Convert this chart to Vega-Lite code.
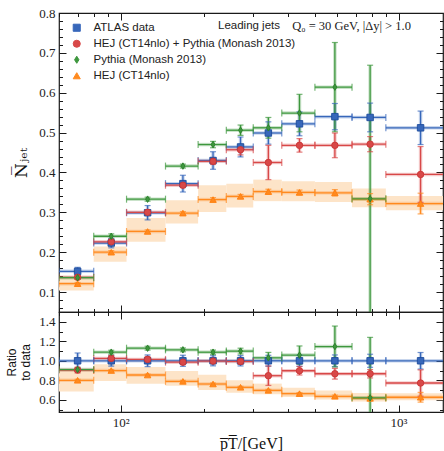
{
  "$schema": "https://vega.github.io/schema/vega-lite/v6.json",
  "padding": {"left": 5, "top": 6, "right": 0, "bottom": 0},
  "background": "white",
  "spacing": 0,
  "bounds": "flush",
  "resolve": {"scale": {"color": "independent", "fill": "independent", "stroke": "independent", "shape": "independent", "x": "independent", "y": "independent"}},
  "datasets": {
    "main": [
      {"s": "HEJ (CT14nlo)", "xlo": 60, "xhi": 80, "xc": 70, "y": 0.121, "lo": 0.118, "hi": 0.124, "blo": 0.104, "bhi": 0.138},
      {"s": "HEJ (CT14nlo)", "xlo": 80, "xhi": 105, "xc": 92.5, "y": 0.200, "lo": 0.196, "hi": 0.204, "blo": 0.176, "bhi": 0.214},
      {"s": "HEJ (CT14nlo)", "xlo": 105, "xhi": 145, "xc": 125, "y": 0.252, "lo": 0.248, "hi": 0.256, "blo": 0.226, "bhi": 0.286},
      {"s": "HEJ (CT14nlo)", "xlo": 145, "xhi": 190, "xc": 167.5, "y": 0.298, "lo": 0.294, "hi": 0.302, "blo": 0.272, "bhi": 0.330},
      {"s": "HEJ (CT14nlo)", "xlo": 190, "xhi": 240, "xc": 215, "y": 0.332, "lo": 0.327, "hi": 0.337, "blo": 0.301, "bhi": 0.368},
      {"s": "HEJ (CT14nlo)", "xlo": 240, "xhi": 300, "xc": 270, "y": 0.340, "lo": 0.335, "hi": 0.345, "blo": 0.312, "bhi": 0.372},
      {"s": "HEJ (CT14nlo)", "xlo": 300, "xhi": 380, "xc": 340, "y": 0.352, "lo": 0.346, "hi": 0.358, "blo": 0.328, "bhi": 0.382},
      {"s": "HEJ (CT14nlo)", "xlo": 380, "xhi": 500, "xc": 440, "y": 0.350, "lo": 0.344, "hi": 0.356, "blo": 0.328, "bhi": 0.378},
      {"s": "HEJ (CT14nlo)", "xlo": 500, "xhi": 680, "xc": 590, "y": 0.349, "lo": 0.341, "hi": 0.357, "blo": 0.326, "bhi": 0.376},
      {"s": "HEJ (CT14nlo)", "xlo": 680, "xhi": 900, "xc": 790, "y": 0.333, "lo": 0.319, "hi": 0.347, "blo": 0.313, "bhi": 0.360},
      {"s": "HEJ (CT14nlo)", "xlo": 900, "xhi": 1500, "xc": 1200, "y": 0.322, "lo": 0.296, "hi": 0.348, "blo": 0.305, "bhi": 0.341},
      {"s": "ATLAS data", "xlo": 60, "xhi": 80, "xc": 70, "y": 0.152, "lo": 0.142, "hi": 0.162},
      {"s": "ATLAS data", "xlo": 80, "xhi": 105, "xc": 92.5, "y": 0.223, "lo": 0.211, "hi": 0.235},
      {"s": "ATLAS data", "xlo": 105, "xhi": 145, "xc": 125, "y": 0.299, "lo": 0.281, "hi": 0.317},
      {"s": "ATLAS data", "xlo": 145, "xhi": 190, "xc": 167.5, "y": 0.372, "lo": 0.351, "hi": 0.393},
      {"s": "ATLAS data", "xlo": 190, "xhi": 240, "xc": 215, "y": 0.430, "lo": 0.408, "hi": 0.452},
      {"s": "ATLAS data", "xlo": 240, "xhi": 300, "xc": 270, "y": 0.464, "lo": 0.439, "hi": 0.489},
      {"s": "ATLAS data", "xlo": 300, "xhi": 380, "xc": 340, "y": 0.499, "lo": 0.471, "hi": 0.527},
      {"s": "ATLAS data", "xlo": 380, "xhi": 500, "xc": 440, "y": 0.522, "lo": 0.492, "hi": 0.552},
      {"s": "ATLAS data", "xlo": 500, "xhi": 680, "xc": 590, "y": 0.540, "lo": 0.507, "hi": 0.573},
      {"s": "ATLAS data", "xlo": 680, "xhi": 900, "xc": 790, "y": 0.538, "lo": 0.502, "hi": 0.574},
      {"s": "ATLAS data", "xlo": 900, "xhi": 1500, "xc": 1200, "y": 0.512, "lo": 0.470, "hi": 0.554},
      {"s": "HEJ (CT14nlo) + Pythia (Monash 2013)", "xlo": 60, "xhi": 80, "xc": 70, "y": 0.137, "lo": 0.133, "hi": 0.141},
      {"s": "HEJ (CT14nlo) + Pythia (Monash 2013)", "xlo": 80, "xhi": 105, "xc": 92.5, "y": 0.226, "lo": 0.220, "hi": 0.232},
      {"s": "HEJ (CT14nlo) + Pythia (Monash 2013)", "xlo": 105, "xhi": 145, "xc": 125, "y": 0.300, "lo": 0.295, "hi": 0.305},
      {"s": "HEJ (CT14nlo) + Pythia (Monash 2013)", "xlo": 145, "xhi": 190, "xc": 167.5, "y": 0.368, "lo": 0.362, "hi": 0.374},
      {"s": "HEJ (CT14nlo) + Pythia (Monash 2013)", "xlo": 190, "xhi": 240, "xc": 215, "y": 0.428, "lo": 0.420, "hi": 0.436},
      {"s": "HEJ (CT14nlo) + Pythia (Monash 2013)", "xlo": 240, "xhi": 300, "xc": 270, "y": 0.457, "lo": 0.444, "hi": 0.470},
      {"s": "HEJ (CT14nlo) + Pythia (Monash 2013)", "xlo": 300, "xhi": 380, "xc": 340, "y": 0.425, "lo": 0.382, "hi": 0.468},
      {"s": "HEJ (CT14nlo) + Pythia (Monash 2013)", "xlo": 380, "xhi": 500, "xc": 440, "y": 0.468, "lo": 0.451, "hi": 0.485},
      {"s": "HEJ (CT14nlo) + Pythia (Monash 2013)", "xlo": 500, "xhi": 680, "xc": 590, "y": 0.468, "lo": 0.437, "hi": 0.499},
      {"s": "HEJ (CT14nlo) + Pythia (Monash 2013)", "xlo": 680, "xhi": 900, "xc": 790, "y": 0.471, "lo": 0.452, "hi": 0.490},
      {"s": "HEJ (CT14nlo) + Pythia (Monash 2013)", "xlo": 900, "xhi": 1500, "xc": 1200, "y": 0.395, "lo": 0.325, "hi": 0.465},
      {"s": "Pythia (Monash 2013)", "xlo": 60, "xhi": 80, "xc": 70, "y": 0.136, "lo": 0.132, "hi": 0.140},
      {"s": "Pythia (Monash 2013)", "xlo": 80, "xhi": 105, "xc": 92.5, "y": 0.240, "lo": 0.234, "hi": 0.246},
      {"s": "Pythia (Monash 2013)", "xlo": 105, "xhi": 145, "xc": 125, "y": 0.333, "lo": 0.328, "hi": 0.338},
      {"s": "Pythia (Monash 2013)", "xlo": 145, "xhi": 190, "xc": 167.5, "y": 0.416, "lo": 0.411, "hi": 0.421},
      {"s": "Pythia (Monash 2013)", "xlo": 190, "xhi": 240, "xc": 215, "y": 0.470, "lo": 0.462, "hi": 0.478},
      {"s": "Pythia (Monash 2013)", "xlo": 240, "xhi": 300, "xc": 270, "y": 0.506, "lo": 0.493, "hi": 0.519},
      {"s": "Pythia (Monash 2013)", "xlo": 300, "xhi": 380, "xc": 340, "y": 0.512, "lo": 0.486, "hi": 0.538},
      {"s": "Pythia (Monash 2013)", "xlo": 380, "xhi": 500, "xc": 440, "y": 0.549, "lo": 0.502, "hi": 0.596},
      {"s": "Pythia (Monash 2013)", "xlo": 500, "xhi": 680, "xc": 590, "y": 0.614, "lo": 0.502, "hi": 0.726},
      {"s": "Pythia (Monash 2013)", "xlo": 680, "xhi": 900, "xc": 790, "y": 0.334, "lo": 0.0, "hi": 0.669}
    ],
    "ratio": [
      {"s": "HEJ (CT14nlo)", "xlo": 60, "xhi": 80, "xc": 70, "y": 0.800, "lo": 0.790, "hi": 0.810, "blo": 0.684, "bhi": 0.910},
      {"s": "HEJ (CT14nlo)", "xlo": 80, "xhi": 105, "xc": 92.5, "y": 0.900, "lo": 0.890, "hi": 0.910, "blo": 0.793, "bhi": 0.964},
      {"s": "HEJ (CT14nlo)", "xlo": 105, "xhi": 145, "xc": 125, "y": 0.854, "lo": 0.844, "hi": 0.864, "blo": 0.765, "bhi": 0.935},
      {"s": "HEJ (CT14nlo)", "xlo": 145, "xhi": 190, "xc": 167.5, "y": 0.789, "lo": 0.779, "hi": 0.799, "blo": 0.745, "bhi": 0.895},
      {"s": "HEJ (CT14nlo)", "xlo": 190, "xhi": 240, "xc": 215, "y": 0.762, "lo": 0.752, "hi": 0.772, "blo": 0.700, "bhi": 0.856},
      {"s": "HEJ (CT14nlo)", "xlo": 240, "xhi": 300, "xc": 270, "y": 0.728, "lo": 0.718, "hi": 0.738, "blo": 0.672, "bhi": 0.800},
      {"s": "HEJ (CT14nlo)", "xlo": 300, "xhi": 380, "xc": 340, "y": 0.697, "lo": 0.687, "hi": 0.707, "blo": 0.657, "bhi": 0.766},
      {"s": "HEJ (CT14nlo)", "xlo": 380, "xhi": 500, "xc": 440, "y": 0.663, "lo": 0.653, "hi": 0.673, "blo": 0.628, "bhi": 0.724},
      {"s": "HEJ (CT14nlo)", "xlo": 500, "xhi": 680, "xc": 590, "y": 0.636, "lo": 0.624, "hi": 0.648, "blo": 0.604, "bhi": 0.696},
      {"s": "HEJ (CT14nlo)", "xlo": 680, "xhi": 900, "xc": 790, "y": 0.615, "lo": 0.595, "hi": 0.635, "blo": 0.582, "bhi": 0.669},
      {"s": "HEJ (CT14nlo)", "xlo": 900, "xhi": 1500, "xc": 1200, "y": 0.626, "lo": 0.576, "hi": 0.676, "blo": 0.596, "bhi": 0.666},
      {"s": "ATLAS data", "xlo": 60, "xhi": 80, "xc": 70, "y": 1.0, "lo": 0.920, "hi": 1.080},
      {"s": "ATLAS data", "xlo": 80, "xhi": 105, "xc": 92.5, "y": 1.0, "lo": 0.945, "hi": 1.055},
      {"s": "ATLAS data", "xlo": 105, "xhi": 145, "xc": 125, "y": 1.0, "lo": 0.940, "hi": 1.060},
      {"s": "ATLAS data", "xlo": 145, "xhi": 190, "xc": 167.5, "y": 1.0, "lo": 0.943, "hi": 1.057},
      {"s": "ATLAS data", "xlo": 190, "xhi": 240, "xc": 215, "y": 1.0, "lo": 0.948, "hi": 1.052},
      {"s": "ATLAS data", "xlo": 240, "xhi": 300, "xc": 270, "y": 1.0, "lo": 0.947, "hi": 1.053},
      {"s": "ATLAS data", "xlo": 300, "xhi": 380, "xc": 340, "y": 1.0, "lo": 0.944, "hi": 1.056},
      {"s": "ATLAS data", "xlo": 380, "xhi": 500, "xc": 440, "y": 1.0, "lo": 0.943, "hi": 1.057},
      {"s": "ATLAS data", "xlo": 500, "xhi": 680, "xc": 590, "y": 1.0, "lo": 0.940, "hi": 1.060},
      {"s": "ATLAS data", "xlo": 680, "xhi": 900, "xc": 790, "y": 1.0, "lo": 0.933, "hi": 1.067},
      {"s": "ATLAS data", "xlo": 900, "xhi": 1500, "xc": 1200, "y": 1.0, "lo": 0.915, "hi": 1.085},
      {"s": "HEJ (CT14nlo) + Pythia (Monash 2013)", "xlo": 60, "xhi": 80, "xc": 70, "y": 0.905, "lo": 0.875, "hi": 0.935},
      {"s": "HEJ (CT14nlo) + Pythia (Monash 2013)", "xlo": 80, "xhi": 105, "xc": 92.5, "y": 1.024, "lo": 0.994, "hi": 1.054},
      {"s": "HEJ (CT14nlo) + Pythia (Monash 2013)", "xlo": 105, "xhi": 145, "xc": 125, "y": 1.014, "lo": 0.984, "hi": 1.044},
      {"s": "HEJ (CT14nlo) + Pythia (Monash 2013)", "xlo": 145, "xhi": 190, "xc": 167.5, "y": 0.986, "lo": 0.961, "hi": 1.011},
      {"s": "HEJ (CT14nlo) + Pythia (Monash 2013)", "xlo": 190, "xhi": 240, "xc": 215, "y": 0.997, "lo": 0.972, "hi": 1.022},
      {"s": "HEJ (CT14nlo) + Pythia (Monash 2013)", "xlo": 240, "xhi": 300, "xc": 270, "y": 0.993, "lo": 0.963, "hi": 1.023},
      {"s": "HEJ (CT14nlo) + Pythia (Monash 2013)", "xlo": 300, "xhi": 380, "xc": 340, "y": 0.847, "lo": 0.747, "hi": 0.947},
      {"s": "HEJ (CT14nlo) + Pythia (Monash 2013)", "xlo": 380, "xhi": 500, "xc": 440, "y": 0.898, "lo": 0.854, "hi": 0.942},
      {"s": "HEJ (CT14nlo) + Pythia (Monash 2013)", "xlo": 500, "xhi": 680, "xc": 590, "y": 0.867, "lo": 0.812, "hi": 0.922},
      {"s": "HEJ (CT14nlo) + Pythia (Monash 2013)", "xlo": 680, "xhi": 900, "xc": 790, "y": 0.867, "lo": 0.824, "hi": 0.910},
      {"s": "HEJ (CT14nlo) + Pythia (Monash 2013)", "xlo": 900, "xhi": 1500, "xc": 1200, "y": 0.772, "lo": 0.637, "hi": 0.907},
      {"s": "Pythia (Monash 2013)", "xlo": 60, "xhi": 80, "xc": 70, "y": 0.910, "lo": 0.890, "hi": 0.930},
      {"s": "Pythia (Monash 2013)", "xlo": 80, "xhi": 105, "xc": 92.5, "y": 1.088, "lo": 1.068, "hi": 1.108},
      {"s": "Pythia (Monash 2013)", "xlo": 105, "xhi": 145, "xc": 125, "y": 1.129, "lo": 1.109, "hi": 1.149},
      {"s": "Pythia (Monash 2013)", "xlo": 145, "xhi": 190, "xc": 167.5, "y": 1.112, "lo": 1.092, "hi": 1.132},
      {"s": "Pythia (Monash 2013)", "xlo": 190, "xhi": 240, "xc": 215, "y": 1.088, "lo": 1.066, "hi": 1.110},
      {"s": "Pythia (Monash 2013)", "xlo": 240, "xhi": 300, "xc": 270, "y": 1.099, "lo": 1.069, "hi": 1.129},
      {"s": "Pythia (Monash 2013)", "xlo": 300, "xhi": 380, "xc": 340, "y": 1.030, "lo": 0.974, "hi": 1.086},
      {"s": "Pythia (Monash 2013)", "xlo": 380, "xhi": 500, "xc": 440, "y": 1.058, "lo": 0.964, "hi": 1.152},
      {"s": "Pythia (Monash 2013)", "xlo": 500, "xhi": 680, "xc": 590, "y": 1.146, "lo": 0.936, "hi": 1.356},
      {"s": "Pythia (Monash 2013)", "xlo": 680, "xhi": 900, "xc": 790, "y": 0.620, "lo": 0.0, "hi": 1.240}
    ]
  },
  "vconcat": [
    {
      "width": 384,
      "height": 299,
      "data": {"name": "main"},
      "resolve": {"axis": {"x": "independent", "y": "independent"}},
      "layer": [
        {
          "transform": [{"filter": "datum.s === 'HEJ (CT14nlo)'"}],
          "mark": {"type": "rect", "color": "#fde4c8", "clip": true},
          "encoding": {
            "x": {"field": "xlo", "type": "quantitative", "scale": {"type": "log", "domain": [60, 1445], "nice": false},
                  "axis": {"orient": "bottom", "values": [60, 70, 80, 90, 200, 300, 400, 500, 600, 700, 800, 900], "labels": false, "tickSize": -3.5, "title": null}},
            "x2": {"field": "xhi"},
            "y": {"field": "blo", "type": "quantitative", "scale": {"domain": [0.05, 0.8], "nice": false, "zero": false},
                  "axis": {"orient": "left", "values": [0.06, 0.08, 0.12, 0.14, 0.16, 0.18, 0.22, 0.24, 0.26, 0.28, 0.32, 0.34, 0.36, 0.38, 0.42, 0.44, 0.46, 0.48, 0.52, 0.54, 0.56, 0.58, 0.62, 0.64, 0.66, 0.68, 0.72, 0.74, 0.76, 0.78], "labels": false, "tickSize": -3.5, "title": null}},
            "y2": {"field": "bhi"}
          }
        },
        {
          "mark": {"type": "rule", "strokeWidth": 3.5, "opacity": 0.28, "clip": true},
          "encoding": {
            "x": {"field": "xlo", "type": "quantitative", "axis": {"orient": "top", "values": [60, 70, 80, 90, 200, 300, 400, 500, 600, 700, 800, 900], "labels": false, "tickSize": -3.5, "title": null}},
            "x2": {"field": "xhi"},
            "y": {"field": "y", "type": "quantitative", "axis": {"orient": "right", "values": [0.06, 0.08, 0.12, 0.14, 0.16, 0.18, 0.22, 0.24, 0.26, 0.28, 0.32, 0.34, 0.36, 0.38, 0.42, 0.44, 0.46, 0.48, 0.52, 0.54, 0.56, 0.58, 0.62, 0.64, 0.66, 0.68, 0.72, 0.74, 0.76, 0.78], "labels": false, "tickSize": -3.5, "title": null}},
            "color": {"field": "s", "type": "nominal", "scale": {"domain": ["ATLAS data", "HEJ (CT14nlo) + Pythia (Monash 2013)", "Pythia (Monash 2013)", "HEJ (CT14nlo)"], "range": ["#3767ba", "#d84848", "#3d973d", "#ff8a1f"]}}
          }
        },
        {
          "mark": {"type": "rule", "strokeWidth": 3.5, "opacity": 0.28, "clip": true},
          "encoding": {
            "x": {"field": "xc", "type": "quantitative", "axis": {"orient": "bottom", "values": [100, 1000], "labels": false, "tickSize": -7, "title": null}},
            "y": {"field": "lo", "type": "quantitative", "axis": {"orient": "left", "values": [0.1, 0.2, 0.3, 0.4, 0.5, 0.6, 0.7, 0.8], "format": ".1f", "tickSize": -7, "labelPadding": 11, "title": "N̅ⱼₑₜ", "titleFont": "DejaVu Serif", "titleFontSize": 17, "titlePadding": 8}},
            "y2": {"field": "hi"},
            "color": {"field": "s", "type": "nominal"}
          }
        },
        {
          "mark": {"type": "rule", "strokeWidth": 1.3, "clip": true},
          "encoding": {
            "x": {"field": "xlo", "type": "quantitative", "axis": {"orient": "top", "values": [100, 1000], "labels": false, "tickSize": -7, "title": null}},
            "x2": {"field": "xhi"},
            "y": {"field": "y", "type": "quantitative", "axis": {"orient": "right", "values": [0.1, 0.2, 0.3, 0.4, 0.5, 0.6, 0.7, 0.8], "labels": false, "tickSize": -7, "title": null}},
            "color": {"field": "s", "type": "nominal"}
          }
        },
        {
          "mark": {"type": "rule", "strokeWidth": 1.3, "clip": true},
          "encoding": {
            "x": {"field": "xc", "type": "quantitative", "axis": null},
            "y": {"field": "lo", "type": "quantitative", "axis": null},
            "y2": {"field": "hi"},
            "color": {"field": "s", "type": "nominal"}
          }
        },
        {
          "mark": {"type": "tick", "orient": "vertical", "size": 7, "thickness": 1.2, "clip": true},
          "encoding": {
            "x": {"field": "xlo", "type": "quantitative", "axis": null},
            "y": {"field": "y", "type": "quantitative", "axis": null},
            "color": {"field": "s", "type": "nominal"}
          }
        },
        {
          "mark": {"type": "tick", "orient": "vertical", "size": 7, "thickness": 1.2, "clip": true},
          "encoding": {
            "x": {"field": "xhi", "type": "quantitative", "axis": null},
            "y": {"field": "y", "type": "quantitative", "axis": null},
            "color": {"field": "s", "type": "nominal"}
          }
        },
        {
          "mark": {"type": "tick", "orient": "horizontal", "size": 6, "thickness": 1.2, "clip": true},
          "encoding": {
            "x": {"field": "xc", "type": "quantitative", "axis": null},
            "y": {"field": "lo", "type": "quantitative", "axis": null},
            "color": {"field": "s", "type": "nominal"}
          }
        },
        {
          "mark": {"type": "tick", "orient": "horizontal", "size": 6, "thickness": 1.2, "clip": true},
          "encoding": {
            "x": {"field": "xc", "type": "quantitative", "axis": null},
            "y": {"field": "hi", "type": "quantitative", "axis": null},
            "color": {"field": "s", "type": "nominal"}
          }
        },
        {
          "mark": {"type": "point", "filled": true, "opacity": 1, "size": 42, "strokeWidth": 0.9, "clip": true},
          "encoding": {
            "x": {"field": "xc", "type": "quantitative", "axis": null},
            "y": {"field": "y", "type": "quantitative", "axis": null},
            "color": {"field": "s", "type": "nominal",
                      "legend": {"title": null, "orient": "none", "legendX": 12, "legendY": 9, "padding": 0, "symbolSize": 50, "symbolStrokeWidth": 1, "symbolOpacity": 1, "labelLimit": 400, "labelFont": "Liberation Sans", "labelFontSize": 11.5, "labelColor": "#222", "labelOffset": 11, "rowPadding": 3,
                                 "encode": {"symbols": {"update": {"opacity": {"value": 1}, "fillOpacity": {"value": 1}, "strokeOpacity": {"value": 1}}}}}},
            "stroke": {"field": "s", "type": "nominal", "legend": null,
                       "scale": {"domain": ["ATLAS data", "HEJ (CT14nlo) + Pythia (Monash 2013)", "Pythia (Monash 2013)", "HEJ (CT14nlo)"], "range": ["#1d4c9c", "#c93636", "#2c7f2c", "#ff7f0e"]}},
            "shape": {"field": "s", "type": "nominal", "legend": null,
                      "scale": {"domain": ["ATLAS data", "HEJ (CT14nlo) + Pythia (Monash 2013)", "Pythia (Monash 2013)", "HEJ (CT14nlo)"], "range": ["square", "circle", "M0,-1L0.62,0L0,1L-0.62,0Z", "triangle-up"]}}
          }
        },
        {
          "data": {"values": [{}]},
          "mark": {"type": "text", "align": "left", "baseline": "middle", "font": "Liberation Sans", "fontSize": 11.5, "color": "#222"},
          "encoding": {
            "x": {"datum": 224, "type": "quantitative", "axis": null},
            "y": {"datum": 0.767, "type": "quantitative", "axis": null},
            "text": {"value": "Leading jets"}
          }
        },
        {
          "data": {"values": [{}]},
          "mark": {"type": "text", "align": "left", "baseline": "middle", "font": "Liberation Serif", "fontSize": 12.5, "color": "#222"},
          "encoding": {
            "x": {"datum": 414, "type": "quantitative", "axis": null},
            "y": {"datum": 0.767, "type": "quantitative", "axis": null},
            "text": {"value": "Q₀ = 30 GeV, |Δy| > 1.0"}
          }
        }
      ]
    },
    {
      "width": 384,
      "height": 100,
      "data": {"name": "ratio"},
      "resolve": {"axis": {"x": "independent", "y": "independent"}},
      "layer": [
        {
          "transform": [{"filter": "datum.s === 'HEJ (CT14nlo)'"}],
          "mark": {"type": "rect", "color": "#fde4c8", "clip": true},
          "encoding": {
            "x": {"field": "xlo", "type": "quantitative", "scale": {"type": "log", "domain": [60, 1445], "nice": false},
                  "axis": {"orient": "bottom", "values": [60, 70, 80, 90, 200, 300, 400, 500, 600, 700, 800, 900], "labels": false, "tickSize": -3.5, "title": null}},
            "x2": {"field": "xhi"},
            "y": {"field": "blo", "type": "quantitative", "scale": {"domain": [0.475, 1.5], "nice": false, "zero": false},
                  "axis": {"orient": "left", "values": [0.5, 0.7, 0.9, 1.1, 1.3, 1.5], "labels": false, "tickSize": -3.5, "title": null}},
            "y2": {"field": "bhi"}
          }
        },
        {
          "mark": {"type": "rule", "strokeWidth": 3.5, "opacity": 0.28, "clip": true},
          "encoding": {
            "x": {"field": "xlo", "type": "quantitative", "axis": {"orient": "top", "values": [60, 70, 80, 90, 200, 300, 400, 500, 600, 700, 800, 900], "labels": false, "tickSize": -3.5, "title": null}},
            "x2": {"field": "xhi"},
            "y": {"field": "y", "type": "quantitative", "axis": {"orient": "right", "values": [0.5, 0.7, 0.9, 1.1, 1.3, 1.5], "labels": false, "tickSize": -3.5, "title": null}},
            "color": {"field": "s", "type": "nominal", "legend": null, "scale": {"domain": ["ATLAS data", "HEJ (CT14nlo) + Pythia (Monash 2013)", "Pythia (Monash 2013)", "HEJ (CT14nlo)"], "range": ["#3767ba", "#d84848", "#3d973d", "#ff8a1f"]}}
          }
        },
        {
          "mark": {"type": "rule", "strokeWidth": 3.5, "opacity": 0.28, "clip": true},
          "encoding": {
            "x": {"field": "xc", "type": "quantitative", "axis": {"orient": "bottom", "values": [100, 1000], "labelExpr": "datum.value == 100 ? '10²' : '10³'", "tickSize": -7, "labelPadding": 11, "title": "p̅T̅/[GeV]", "titleFont": "Liberation Serif", "titleFontSize": 16, "titlePadding": 6}},
            "y": {"field": "lo", "type": "quantitative", "axis": {"orient": "left", "values": [0.6, 0.8, 1.0, 1.2, 1.4], "format": ".1f", "tickSize": -7, "labelPadding": 11, "title": ["Ratio", "to data"], "titleFont": "Liberation Sans", "titleFontSize": 12, "titlePadding": 6}},
            "y2": {"field": "hi"},
            "color": {"field": "s", "type": "nominal", "legend": null}
          }
        },
        {
          "mark": {"type": "rule", "strokeWidth": 1.3, "clip": true},
          "encoding": {
            "x": {"field": "xlo", "type": "quantitative", "axis": {"orient": "top", "values": [100, 1000], "labels": false, "tickSize": -7, "title": null}},
            "x2": {"field": "xhi"},
            "y": {"field": "y", "type": "quantitative", "axis": {"orient": "right", "values": [0.6, 0.8, 1.0, 1.2, 1.4], "labels": false, "tickSize": -7, "title": null}},
            "color": {"field": "s", "type": "nominal", "legend": null}
          }
        },
        {
          "mark": {"type": "rule", "strokeWidth": 1.3, "clip": true},
          "encoding": {
            "x": {"field": "xc", "type": "quantitative", "axis": null},
            "y": {"field": "lo", "type": "quantitative", "axis": null},
            "y2": {"field": "hi"},
            "color": {"field": "s", "type": "nominal", "legend": null}
          }
        },
        {
          "mark": {"type": "tick", "orient": "vertical", "size": 7, "thickness": 1.2, "clip": true},
          "encoding": {
            "x": {"field": "xlo", "type": "quantitative", "axis": null},
            "y": {"field": "y", "type": "quantitative", "axis": null},
            "color": {"field": "s", "type": "nominal", "legend": null}
          }
        },
        {
          "mark": {"type": "tick", "orient": "vertical", "size": 7, "thickness": 1.2, "clip": true},
          "encoding": {
            "x": {"field": "xhi", "type": "quantitative", "axis": null},
            "y": {"field": "y", "type": "quantitative", "axis": null},
            "color": {"field": "s", "type": "nominal", "legend": null}
          }
        },
        {
          "mark": {"type": "tick", "orient": "horizontal", "size": 6, "thickness": 1.2, "clip": true},
          "encoding": {
            "x": {"field": "xc", "type": "quantitative", "axis": null},
            "y": {"field": "lo", "type": "quantitative", "axis": null},
            "color": {"field": "s", "type": "nominal", "legend": null}
          }
        },
        {
          "mark": {"type": "tick", "orient": "horizontal", "size": 6, "thickness": 1.2, "clip": true},
          "encoding": {
            "x": {"field": "xc", "type": "quantitative", "axis": null},
            "y": {"field": "hi", "type": "quantitative", "axis": null},
            "color": {"field": "s", "type": "nominal", "legend": null}
          }
        },
        {
          "mark": {"type": "point", "filled": true, "opacity": 1, "size": 42, "strokeWidth": 0.9, "clip": true},
          "encoding": {
            "x": {"field": "xc", "type": "quantitative", "axis": null},
            "y": {"field": "y", "type": "quantitative", "axis": null},
            "color": {"field": "s", "type": "nominal", "legend": null},
            "stroke": {"field": "s", "type": "nominal", "legend": null,
                       "scale": {"domain": ["ATLAS data", "HEJ (CT14nlo) + Pythia (Monash 2013)", "Pythia (Monash 2013)", "HEJ (CT14nlo)"], "range": ["#1d4c9c", "#c93636", "#2c7f2c", "#ff7f0e"]}},
            "shape": {"field": "s", "type": "nominal", "legend": null,
                      "scale": {"domain": ["ATLAS data", "HEJ (CT14nlo) + Pythia (Monash 2013)", "Pythia (Monash 2013)", "HEJ (CT14nlo)"], "range": ["square", "circle", "M0,-1L0.62,0L0,1L-0.62,0Z", "triangle-up"]}}
          }
        }
      ]
    }
  ],
  "config": {
    "view": {"stroke": "#1a1a1a", "strokeWidth": 1.2},
    "axis": {"domain": false, "grid": false, "tickColor": "#1a1a1a", "tickWidth": 1, "labelFont": "Liberation Serif", "labelFontSize": 13, "labelColor": "#222", "titleFontWeight": "normal", "titleColor": "#111"}
  }
}
